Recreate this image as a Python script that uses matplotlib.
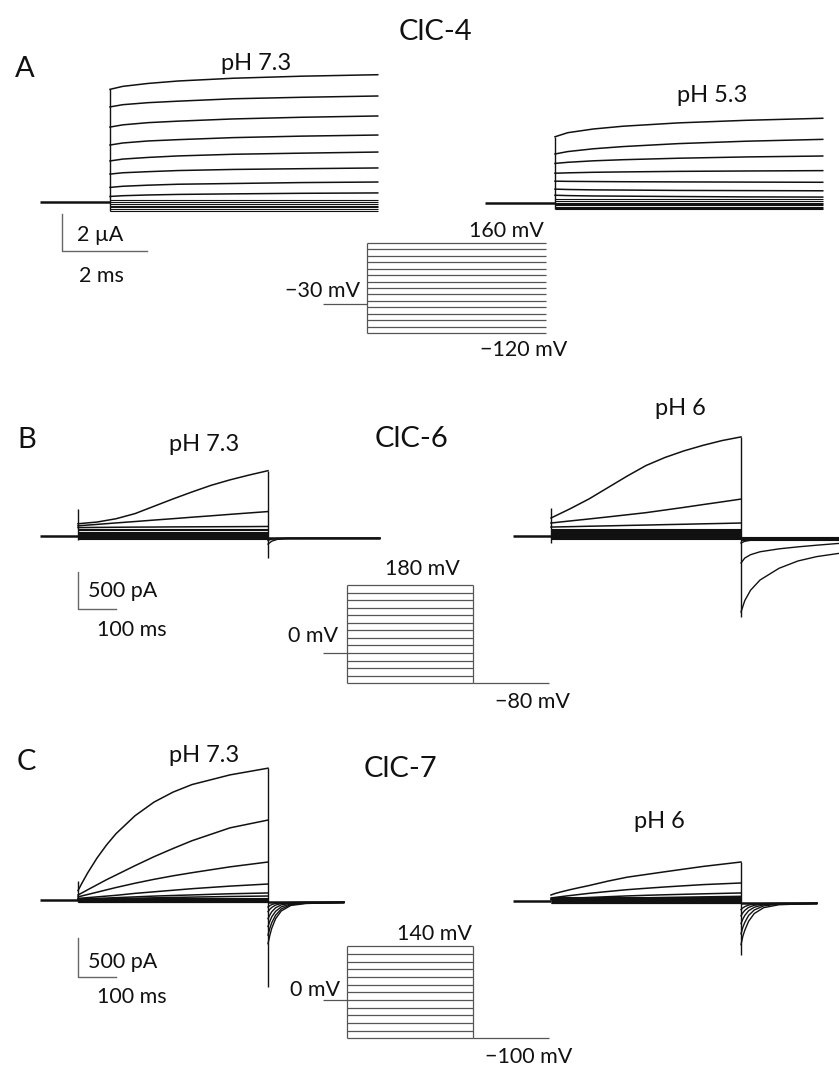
import matplotlib
matplotlib.use("Agg")
import matplotlib.pyplot as plt

plt.rcParams['font.family'] = ['Lato', 'DejaVu Sans']

W, H = 839, 1066

# ---------------- ClC-4 (A): time in ms, current in uA ----------------
a_volts = [160, 140, 120, 100, 80, 60, 40, 20, 0, -20, -40, -60, -80, -100, -120]
a_hold_v = -30
a_t = [0, 0.3, 0.9, 1.6, 2.9, 4.5, 6.3]
a_ph73 = [
    [6.09, 6.25, 6.41, 6.54, 6.69, 6.80, 6.88],
    [5.14, 5.26, 5.37, 5.45, 5.58, 5.66, 5.73],
    [4.05, 4.17, 4.29, 4.37, 4.49, 4.58, 4.65],
    [3.08, 3.19, 3.30, 3.37, 3.48, 3.56, 3.62],
    [2.22, 2.32, 2.41, 2.49, 2.58, 2.64, 2.70],
    [1.51, 1.58, 1.64, 1.70, 1.76, 1.80, 1.84],
    [0.79, 0.85, 0.91, 0.96, 1.00, 1.05, 1.08],
    [0.30, 0.34, 0.38, 0.41, 0.44, 0.47, 0.49],
]
a_ph73_band = [0.12, 0.0, -0.1, -0.2, -0.28, -0.37, -0.47]
a_ph53 = [
    [3.58, 3.80, 4.00, 4.15, 4.33, 4.47, 4.58],
    [2.65, 2.78, 2.93, 3.05, 3.21, 3.34, 3.44],
    [2.14, 2.20, 2.28, 2.34, 2.42, 2.49, 2.54],
    [1.61, 1.63, 1.66, 1.68, 1.71, 1.73, 1.75],
    [1.18, 1.17, 1.16, 1.15, 1.14, 1.13, 1.12],
    [0.75, 0.73, 0.71, 0.70, 0.68, 0.67, 0.66],
    [0.42, 0.40, 0.38, 0.37, 0.35, 0.33, 0.32],
]
a_ph53_band = [0.2, 0.1, 0.02, -0.06, -0.13, -0.2, -0.26, -0.32]

# ---------------- ClC-6 (B): time in ms, current in pA ----------------
b_volts = [180, 160, 140, 120, 100, 80, 60, 40, 20, 0, -20, -40, -60, -80]
b_hold_v = 0
b_tail_v = -80
b_t = [0, 50, 100, 150, 200, 250, 300, 350, 400, 450, 500]
b_ph73 = [
    [167, 190, 235, 305, 405, 505, 600, 690, 765, 830, 890],
    [139, 158, 178, 197, 217, 236, 256, 275, 295, 314, 333],
    [115, 117, 119, 121, 122, 124, 125, 126, 127, 128, 130],
]
b_ph73_band = [95, 75, 58, 42, 28, 15, 5, -5, -15, -28, -40]
b_tt = [500, 510, 525, 550, 600, 650, 700, 795]
b_ph73_tail = [
    [-110, -70, -45, -32, -30, -30, -30, -30],
    [-60, -42, -33, -30, -30, -30, -30, -30],
]
b_ph73_spikes = [(0, -55, 367), (500, -300, 890)]

b_ph6 = [
    [245, 370, 505, 660, 815, 960, 1070, 1160, 1235, 1300, 1350],
    [177, 205, 232, 260, 289, 318, 354, 390, 428, 465, 503],
    [122, 127, 133, 138, 144, 149, 155, 160, 166, 171, 177],
]
b_ph6_band = [100, 82, 66, 52, 38, 25, 12, 0, -12, -25, -40]
b_tt6 = [500, 510, 525, 550, 600, 650, 700, 760, 800]
b_ph6_tail = [
    [-1035, -880, -740, -600, -440, -340, -280, -235, -215],
    [-367, -300, -255, -215, -175, -148, -125, -100, -90],
    [-95, -72, -58, -48, -42, -40, -38, -36, -35],
]
b_ph6_tail_band = [-15, -22, -28, -34, -40, -46, -52]
b_ph6_spikes = [(0, -95, 380), (500, -1100, 1350)]

# ---------------- ClC-7 (C): time in ms, current in pA ----------------
c_volts = [140, 120, 100, 80, 60, 40, 20, 0, -20, -40, -60, -80, -100]
c_hold_v = 0
c_tail_v = -100
c_t = [0, 10, 25, 50, 75, 100, 150, 200, 250, 300, 400, 500]
c_ph73 = [
    [120, 213, 344, 538, 705, 850, 1080, 1255, 1383, 1480, 1604, 1690],
    [64, 90, 130, 195, 260, 320, 440, 555, 660, 760, 925, 1025],
    [40, 52, 70, 100, 130, 160, 215, 265, 310, 350, 425, 487],
    [20, 24, 30, 40, 50, 60, 85, 105, 125, 145, 178, 205],
    [10, 12, 15, 20, 25, 30, 40, 50, 58, 65, 80, 90],
    [5, 6, 8, 10, 13, 15, 22, 28, 33, 37, 45, 51],
]
c_ph73_band = [25, 12, 0, -10, -18, -25, -32]
c_tt = [500, 505, 510, 520, 535, 560, 600, 700]
c_ph73_tail = [
    [-560, -450, -360, -240, -140, -70, -45, -30],
    [-450, -360, -290, -195, -115, -60, -40, -30],
    [-340, -270, -215, -145, -88, -50, -37, -30],
    [-240, -190, -150, -100, -62, -42, -34, -30],
    [-150, -118, -95, -65, -45, -35, -31, -30],
    [-90, -72, -58, -44, -36, -32, -30, -30],
]
c_ph73_spikes = [(0, -26, 243), (500, -1114, 1690)]

c_ph6 = [
    [77, 95, 115, 145, 172, 198, 255, 305, 340, 375, 443, 500],
    [38, 45, 55, 70, 84, 98, 122, 145, 163, 180, 210, 231],
    [25, 27, 30, 35, 40, 45, 55, 65, 73, 80, 92, 103],
    [15, 16, 18, 22, 25, 27, 32, 37, 41, 45, 53, 60],
]
c_ph6_band = [50, 35, 22, 12, 4, -4, -12, -20, -28]
c_ph6_tail = [
    [-560, -450, -375, -260, -160, -85, -48, -30],
    [-420, -335, -275, -185, -115, -62, -40, -30],
    [-290, -230, -185, -125, -80, -48, -36, -30],
    [-190, -150, -120, -82, -55, -40, -33, -30],
    [-110, -88, -72, -52, -40, -33, -30, -30],
]
c_ph6_spikes = [(500, -690, 500)]

fig = plt.figure(figsize=(W / 100, H / 100), dpi=100)
fig.patch.set_facecolor('white')

TR = '#111111'
PR = '#555555'


def px_axes(box, origin, scale):
    # box in pixels (x0, x1, y0, y1); origin = pixel of data (0, 0); scale = px per data unit
    x0, x1, y0, y1 = box
    ox, oy = origin
    sx, sy = scale
    ax = fig.add_axes([x0 / W, 1 - y1 / H, (x1 - x0) / W, (y1 - y0) / H])
    ax.set_xlim((x0 - ox) / sx, (x1 - ox) / sx)
    ax.set_ylim((oy - y1) / sy, (oy - y0) / sy)
    ax.axis('off')
    ax.patch.set_alpha(0)
    return ax


def txt(x, y, s, size=15.5, ha='left'):
    fig.text(x / W, 1 - y / H, s, fontsize=size, ha=ha, va='baseline', color='#111111')


def traces(ax, t, rows, band, t_hold):
    ax.hlines(0, t_hold, 0, color=TR, lw=1.8)
    for r in rows:
        ax.plot(t, r, color=TR, lw=1.1)
    ax.hlines(band, t[0], t[-1], color=TR, lw=0.8)


def tails(ax, t, rows, base, band=None):
    ax.hlines(base, t[0], t[-1], color=TR, lw=1.8)
    if band:
        ax.hlines(band, t[0], t[-1], color=TR, lw=0.8)
    for r in rows:
        ax.plot(t, r, color=TR, lw=1.0)


def spikes(ax, sp):
    for t0, lo, hi in sp:
        ax.vlines(t0, lo, hi, color=TR, lw=1.0)


def protocol(ax, volts, hold_v, t_hold, t_step, tail_v=None, t_tail=None, right_edge=True):
    ax.hlines(volts, 0, t_step, color=PR, lw=0.9)
    ax.hlines(hold_v, t_hold, 0, color=PR, lw=0.9)
    ax.vlines(0, min(volts), max(volts), color=PR, lw=0.9)
    if right_edge:
        ax.vlines(t_step, min(volts), max(volts), color=PR, lw=0.9)
    if tail_v is not None:
        ax.hlines(tail_v, t_step, t_tail, color=PR, lw=0.9)


def scalebar(ax, x0, y0, dx, dy):
    ax.plot([x0, x0, x0 + dx], [y0 + dy, y0, y0], color='#666666', lw=1.0)


# ---- A ----
ax = px_axes((0, 420, 50, 300), (110, 202), (42.5, 18.5))
traces(ax, a_t, a_ph73, a_ph73_band, -1.65)
ax.vlines(0, min(a_ph73_band), a_ph73[0][0], color=TR, lw=1.0)
scalebar(ax, -1.13, -2.65, 2, 2)

ax = px_axes((420, 839, 50, 300), (555, 203), (42.5, 18.5))
traces(ax, a_t, a_ph53, a_ph53_band, -1.65)
ax.vlines(0, min(a_ph53_band), a_ph53[0][0], color=TR, lw=1.0)

ax = px_axes((270, 600, 220, 370), (367, 294.4), (28.4, 0.3214))
protocol(ax, a_volts, a_hold_v, -1.55, 6.3, right_edge=False)

txt(435, 40, 'ClC-4', size=21, ha='center')
txt(15, 77, 'A', size=21)
txt(256, 70, 'pH 7.3', size=17, ha='center')
txt(712, 102, 'pH 5.3', size=17, ha='center')
txt(77, 241, '2 µA')
txt(79, 282, '2 ms')
txt(544, 237, '160 mV', ha='right')
txt(360, 297, '−30 mV', ha='right')
txt(567, 356, '−120 mV', ha='right')

# ---- B ----
ax = px_axes((0, 420, 380, 720), (78, 536), (0.38, 36.7 / 500))
traces(ax, b_t, b_ph73, b_ph73_band, -100)
tails(ax, b_tt, b_ph73_tail, -30)
spikes(ax, b_ph73_spikes)
scalebar(ax, 0, -993, 100, 500)

ax = px_axes((420, 839, 380, 720), (551, 536), (0.38, 36.7 / 500))
traces(ax, b_t, b_ph6, b_ph6_band, -100)
tails(ax, b_tt6, b_ph6_tail, -30, b_ph6_tail_band)
spikes(ax, b_ph6_spikes)

ax = px_axes((270, 600, 560, 720), (347, 653), (0.252, 0.377))
protocol(ax, b_volts, b_hold_v, -95, 500, b_tail_v, 800)

txt(17, 448, 'B', size=21)
txt(412, 447, 'ClC-6', size=21, ha='center')
txt(204, 451, 'pH 7.3', size=17, ha='center')
txt(680, 415, 'pH 6', size=17, ha='center')
txt(88, 597, '500 pA')
txt(97, 636, '100 ms')
txt(460, 575, '180 mV', ha='right')
txt(338, 642, '0 mV', ha='right')
txt(570, 708, '−80 mV', ha='right')

# ---- C ----
ax = px_axes((0, 420, 720, 1066), (78, 900), (0.38, 39 / 500))
traces(ax, c_t, c_ph73, c_ph73_band, -100)
tails(ax, c_tt, c_ph73_tail, -30)
spikes(ax, c_ph73_spikes)
scalebar(ax, 0, -986, 100, 500)

ax = px_axes((420, 839, 720, 1066), (551, 901), (0.38, 39 / 500))
traces(ax, c_t, c_ph6, c_ph6_band, -100)
tails(ax, c_tt, c_ph6_tail, -30)
spikes(ax, c_ph6_spikes)

ax = px_axes((270, 600, 900, 1066), (347, 1000), (0.252, 0.383))
protocol(ax, c_volts, c_hold_v, -95, 500, c_tail_v, 800)

txt(17, 770, 'C', size=21)
txt(400, 777, 'ClC-7', size=21, ha='center')
txt(204, 762, 'pH 7.3', size=17, ha='center')
txt(659, 828, 'pH 6', size=17, ha='center')
txt(88, 968, '500 pA')
txt(97, 1003, '100 ms')
txt(472, 940, '140 mV', ha='right')
txt(340, 996, '0 mV', ha='right')
txt(572, 1063, '−100 mV', ha='right')

fig.savefig('out.png', dpi=100, facecolor='white')
